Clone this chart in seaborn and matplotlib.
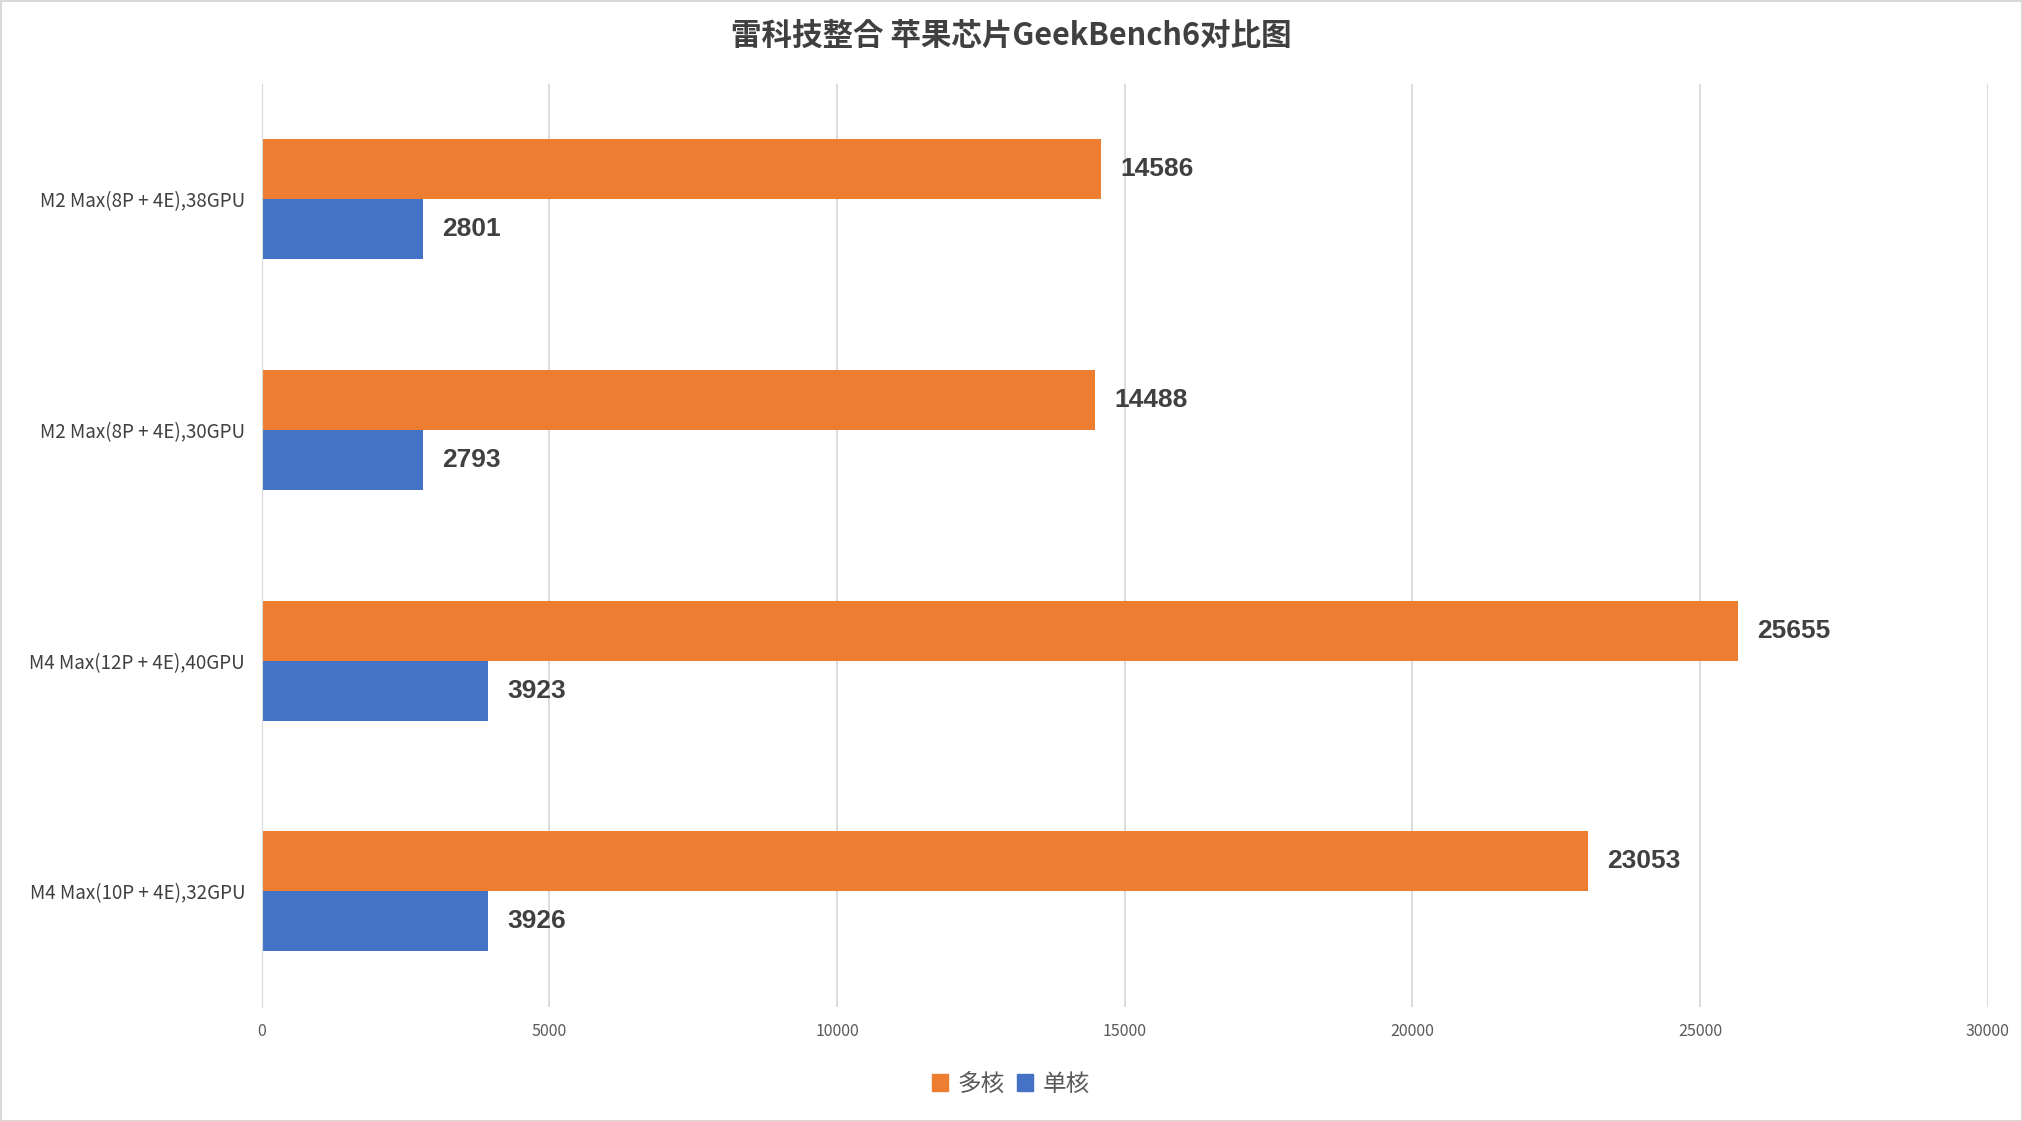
import matplotlib
matplotlib.use("Agg")
import matplotlib.pyplot as plt
from matplotlib import font_manager as fm
import seaborn as sns
import pandas as pd

categories = ["M2 Max(8P + 4E),38GPU", "M2 Max(8P + 4E),30GPU",
              "M4 Max(12P + 4E),40GPU", "M4 Max(10P + 4E),32GPU"]
multi_core = [14586, 14488, 25655, 23053]
single_core = [2801, 2793, 3923, 3926]
series = ["多核", "单核"]
colors = ["#ED7D31", "#4472C4"]
title = "雷科技整合 苹果芯片GeekBench6对比图"

cjk_files = [f for f in fm.findSystemFonts() if "NotoSansCJK" in f.replace("-", "").replace(" ", "") or "NotoSansCJK" in f]
cjk_reg = next((f for f in cjk_files if "Regular" in f), cjk_files[0] if cjk_files else None)
cjk_bold = next((f for f in cjk_files if "Bold" in f), cjk_reg)
for f in cjk_files:
    fm.fontManager.addfont(f)
if cjk_reg:
    fam = fm.FontProperties(fname=cjk_reg).get_name()
    plt.rcParams["font.family"] = [fam, "DejaVu Sans"]
    reg = lambda s: fm.FontProperties(fname=cjk_reg, size=s)
    bold = lambda s: fm.FontProperties(fname=cjk_bold, size=s, weight="bold")
else:
    reg = lambda s: fm.FontProperties(size=s)
    bold = lambda s: fm.FontProperties(size=s, weight="bold")

df = pd.DataFrame({
    "chip": categories * 2,
    "score": multi_core + single_core,
    "type": [series[0]] * 4 + [series[1]] * 4,
})

fig = plt.figure(figsize=(20.22, 11.21), dpi=100)
fig.patch.set_edgecolor("#D9D9D9")
fig.patch.set_linewidth(2)
ax = fig.add_axes([0.1295, 0.102, 0.8535, 0.823])
sns.barplot(data=df, x="score", y="chip", hue="type", order=categories,
            hue_order=series, palette=colors, width=0.52, orient="h",
            saturation=1, ax=ax, legend=True)

for cont in ax.containers:
    ax.bar_label(cont, fmt="%d", padding=14, fontsize=19, fontweight="bold",
                 color="#404040", fontfamily="Liberation Sans")

ax.set_xlim(0, 30000)
ax.set_xticks(range(0, 30001, 5000))
ax.set_ylim(3.5, -0.5)
ax.grid(axis="x", color="#D9D9D9", linewidth=1.3)
ax.set_axisbelow(True)
for s in ["top", "right", "bottom"]:
    ax.spines[s].set_visible(False)
ax.spines["left"].set_color("#D9D9D9")
ax.tick_params(axis="both", length=0)
ax.tick_params(axis="x", labelcolor="#595959", pad=12)
ax.tick_params(axis="y", labelcolor="#404040", pad=12)
for t in ax.get_xticklabels():
    t.set_fontproperties(reg(11.5))
for t in ax.get_yticklabels():
    t.set_fontproperties(reg(13.5))
ax.set_xlabel("")
ax.set_ylabel("")

ax.legend_.remove()
handles = [plt.Rectangle((0, 0), 1, 1, color=c) for c in colors]
fig.legend(handles, series, loc="center", bbox_to_anchor=(0.5, 0.033), ncol=2,
           frameon=False, prop=reg(17), handlelength=0.7, handleheight=0.7,
           handletextpad=0.4, columnspacing=0.5, labelcolor="#595959")

fig.text(0.5, 0.968, title, ha="center", va="center", fontproperties=bold(22),
         color="#404040")

fig.savefig("out.png", dpi=100)
